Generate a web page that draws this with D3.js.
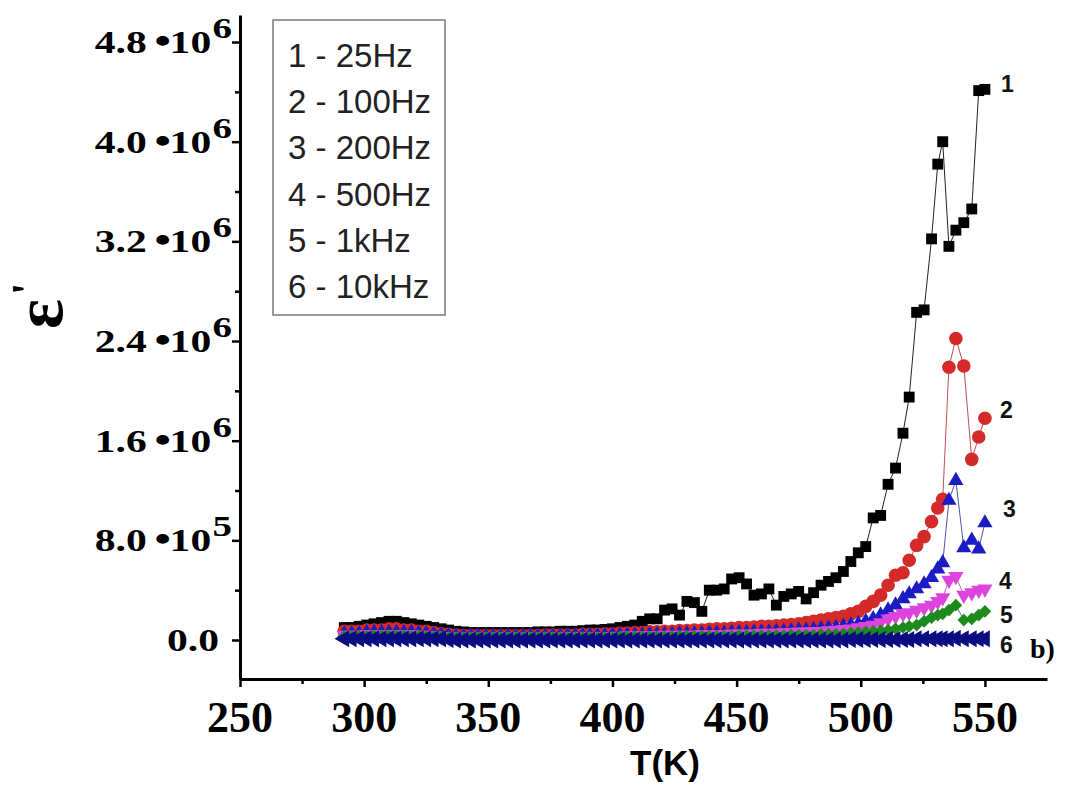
<!DOCTYPE html>
<html><head><meta charset="utf-8">
<script src="https://cdn.jsdelivr.net/npm/d3@7"></script>
<style>body{margin:0;background:#fff}</style>
</head><body>
<svg id="c" width="1075" height="789"></svg>
<script>
// Temperature (K)
const temps = [
292,295,298,301,304,307,310,313,316,319,
322,325,328,331,334,337,340,343,346,349,
352,355,358,361,364,367,370,373,376,379,
382,385,388,391,394,397,400,403,406,409,
412,415,418,421,424,427,430,433,436,439,
442,445,448,451,454,457,460,463,466,469,
472,475,478,481,484,487,490,493,496,499,
502,505,508,511,514,517,519.5,522.5,525.5,528.5,
531,533,535.5,538.3,541.5,544.7,547.5,550];

// epsilon' values in units of 10^6
const eps25 = [
0.10,0.10,0.11,0.12,0.13,0.14,0.15,0.15,0.14,0.13,
0.12,0.11,0.10,0.09,0.08,0.07,0.065,0.06,0.06,0.06,
0.06,0.06,0.06,0.06,0.06,0.06,0.065,0.065,0.065,0.07,
0.07,0.07,0.075,0.08,0.08,0.085,0.09,0.10,0.11,0.12,
0.15,0.17,0.17,0.24,0.25,0.20,0.31,0.30,0.23,0.40,
0.40,0.41,0.49,0.50,0.45,0.36,0.37,0.41,0.28,0.35,
0.37,0.39,0.33,0.38,0.44,0.47,0.50,0.55,0.63,0.70,
0.75,0.98,1.00,1.25,1.38,1.66,1.95,2.63,2.65,3.22,
3.82,4.00,3.16,3.29,3.35,3.46,4.41,4.42];

const eps100 = [
0.07,0.07,0.07,0.08,0.08,0.08,0.09,0.09,0.08,0.08,
0.07,0.07,0.06,0.05,0.045,0.04,0.035,0.035,0.035,0.035,
0.035,0.035,0.035,0.035,0.035,0.035,0.035,0.04,0.04,0.04,
0.04,0.04,0.045,0.045,0.045,0.05,0.05,0.055,0.055,0.06,
0.06,0.065,0.065,0.07,0.07,0.075,0.075,0.08,0.08,0.085,
0.09,0.09,0.095,0.10,0.10,0.105,0.11,0.11,0.115,0.12,
0.125,0.13,0.14,0.15,0.16,0.17,0.18,0.19,0.21,0.23,
0.27,0.31,0.36,0.44,0.52,0.54,0.64,0.76,0.83,0.95,
1.06,1.13,2.19,2.42,2.20,1.45,1.63,1.78];

const eps200 = [
0.05,0.05,0.05,0.06,0.06,0.06,0.06,0.06,0.06,0.06,
0.055,0.05,0.045,0.04,0.035,0.03,0.03,0.03,0.03,0.03,
0.03,0.03,0.03,0.03,0.03,0.03,0.03,0.03,0.03,0.03,
0.035,0.035,0.035,0.035,0.035,0.035,0.04,0.04,0.04,0.04,
0.04,0.045,0.045,0.045,0.045,0.05,0.05,0.05,0.05,0.055,
0.055,0.055,0.06,0.06,0.06,0.065,0.065,0.065,0.07,0.07,
0.075,0.08,0.08,0.085,0.09,0.095,0.10,0.11,0.12,0.13,
0.15,0.17,0.20,0.24,0.28,0.33,0.37,0.41,0.45,0.50,
0.57,0.62,1.12,1.28,0.74,0.80,0.73,0.94];

const eps500 = [
0.04,0.04,0.04,0.045,0.045,0.045,0.045,0.045,0.045,0.045,
0.04,0.04,0.035,0.03,0.03,0.025,0.025,0.025,0.025,0.025,
0.025,0.025,0.025,0.025,0.025,0.025,0.025,0.025,0.025,0.025,
0.03,0.03,0.03,0.03,0.03,0.03,0.03,0.03,0.035,0.035,
0.035,0.035,0.035,0.04,0.04,0.04,0.04,0.04,0.045,0.045,
0.045,0.045,0.05,0.05,0.05,0.05,0.055,0.055,0.055,0.06,
0.06,0.065,0.065,0.07,0.07,0.075,0.08,0.085,0.09,0.10,
0.11,0.12,0.14,0.17,0.19,0.21,0.22,0.24,0.26,0.28,
0.31,0.34,0.48,0.51,0.36,0.38,0.40,0.41];

const eps1k = [
0.03,0.03,0.03,0.03,0.035,0.035,0.035,0.035,0.035,0.03,
0.03,0.03,0.025,0.025,0.02,0.02,0.02,0.02,0.02,0.02,
0.02,0.02,0.02,0.02,0.02,0.02,0.02,0.02,0.02,0.02,
0.02,0.02,0.02,0.02,0.02,0.02,0.02,0.025,0.025,0.025,
0.025,0.025,0.025,0.025,0.025,0.03,0.03,0.03,0.03,0.03,
0.03,0.03,0.03,0.035,0.035,0.035,0.035,0.035,0.035,0.035,
0.04,0.04,0.04,0.04,0.045,0.045,0.045,0.05,0.055,0.06,
0.065,0.07,0.075,0.08,0.09,0.10,0.11,0.12,0.15,0.18,
0.20,0.21,0.24,0.28,0.16,0.17,0.20,0.23];

const eps10k = [
0.01,0.01,0.01,0.01,0.01,0.01,0.01,0.01,0.01,0.01,
0.01,0.01,0.01,0.01,0.005,0.0,0.0,0.0,0.0,0.0,
0.0,0.0,0.0,0.0,0.0,0.0,0.0,0.0,0.0,0.0,
0.0,0.0,0.0,0.0,0.0,0.0,0.0,0.0,0.0,0.0,
0.0,0.0,0.0,0.0,0.0,0.0,0.0,0.0,0.0,0.0,
0.0,0.0,0.0,0.0,0.0,0.0,0.0,0.0,0.0,0.0,
0.0,0.0,0.0,0.0,0.0,0.0,0.0,0.0,0.005,0.005,
0.005,0.005,0.005,0.005,0.005,0.005,0.005,0.01,0.01,0.01,
0.01,0.01,0.01,0.015,0.01,0.01,0.01,0.01];

const legendLabels = ["1 - 25Hz","2 - 100Hz","3 - 200Hz","4 - 500Hz","5 - 1kHz","6 - 10kHz"];
const curveNumbers = ["1","2","3","4","5","6"];
const xTicks = [250,300,350,400,450,500,550];
const xMinor = [275,325,375,425,475,525];
const yTicks = [0,0.8,1.6,2.4,3.2,4.0,4.8];
const yMinor = [0.4,1.2,2.0,2.8,3.6,4.4];
const yMantissa = ["0.0","8.0","1.6","2.4","3.2","4.0","4.8"];
const yExponent = ["","5","6","6","6","6","6"];

const svg = d3.select("#c");
svg.append("rect").attr("width",1075).attr("height",789).attr("fill","#fff");

const x = d3.scaleLinear().domain([250,575]).range([240,1047]);
const y = d3.scaleLinear().domain([-0.313,5.017]).range([679,15]);

const series = [
  {vals: eps25,  color:"#000000", line:"#222222", type:d3.symbolSquare,   size:118, rot:0},
  {vals: eps100, color:"#d42a2a", line:"#c05050", type:d3.symbolCircle,   size:145, rot:0},
  {vals: eps200, color:"#1c1cc4", line:"#5050b0", type:d3.symbolTriangle, size:100, rot:0},
  {vals: eps500, color:"#dd44dd", line:"#c060c0", type:d3.symbolTriangle, size:100, rot:180},
  {vals: eps1k,  color:"#1e8a1e", line:"#409040", type:d3.symbolSquare,   size:80,  rot:45},
  {vals: eps10k, color:"#0c0c82", line:"#20208a", type:d3.symbolTriangle, size:125, rot:-90}
];

const serif = "'Liberation Serif','Times New Roman',serif";
const sans = "'Liberation Sans',Arial,sans-serif";

const plot = svg.append("g");
series.forEach(s => {
  const pts = temps.map((t,i)=>[t, s.vals[i]]);
  plot.append("path").datum(pts)
    .attr("fill","none").attr("stroke",s.line).attr("stroke-width",1)
    .attr("d", d3.line().x(d=>x(d[0])).y(d=>y(d[1])));
  const sym = d3.symbol().type(s.type).size(s.size);
  plot.append("g").selectAll("path").data(pts).join("path")
    .attr("d", sym)
    .attr("fill", s.color)
    .attr("transform", d=>`translate(${x(d[0])},${y(d[1])}) rotate(${s.rot})`);
});

// Axes
const gx = svg.append("g").attr("transform",`translate(0,${y.range()[0]})`)
  .call(d3.axisBottom(x).tickValues(xTicks).tickSize(8).tickSizeOuter(0).tickFormat(""));
const gxm = svg.append("g").attr("transform",`translate(0,${y.range()[0]})`)
  .call(d3.axisBottom(x).tickValues(xMinor).tickSize(5).tickSizeOuter(0).tickFormat(""));
gxm.select(".domain").remove();
const gy = svg.append("g").attr("transform",`translate(${x.range()[0]},0)`)
  .call(d3.axisLeft(y).tickValues(yTicks).tickSize(8).tickSizeOuter(0).tickFormat(""));
const gym = svg.append("g").attr("transform",`translate(${x.range()[0]},0)`)
  .call(d3.axisLeft(y).tickValues(yMinor).tickSize(5).tickSizeOuter(0).tickFormat(""));
gym.select(".domain").remove();
svg.selectAll(".domain").attr("stroke","#000").attr("stroke-width",3);
svg.selectAll(".tick line").attr("stroke","#000").attr("stroke-width",2.5);

// X tick labels
svg.append("g").selectAll("text").data(xTicks).join("text")
  .attr("x", d=>x(d)).attr("y", 732)
  .attr("text-anchor","middle")
  .attr("font-family", serif).attr("font-weight","bold").attr("font-size",44)
  .text(d=>d);

// Y tick labels
yTicks.forEach((v,i)=>{
  const hasExp = yExponent[i] !== "";
  const g = svg.append("g")
    .attr("transform",`translate(${hasExp?232:219},${y(v)+11}) scale(1.3,1)`);
  const t = g.append("text").attr("text-anchor","end")
    .attr("font-family", serif).attr("font-weight","bold").attr("font-size",32);
  t.append("tspan").text(yMantissa[i]);
  if (hasExp) {
    t.append("tspan").attr("dx",6).attr("font-size",36).text("\u2022");
    t.append("tspan").attr("dx",-1).text("10");
    t.append("tspan").attr("dx",1).attr("dy",-15).attr("font-size",30).text(yExponent[i]);
  }
});

// Axis titles
svg.append("text").attr("x",665).attr("y",775).attr("text-anchor","middle")
  .attr("font-family", sans).attr("font-weight","bold").attr("font-size",35)
  .text("T(K)");
const yt = svg.append("text").attr("transform","translate(62,329) rotate(-90)")
  .attr("font-family", serif).attr("font-weight","bold").attr("font-size",70);
yt.append("tspan").text("\u03b5");
yt.append("tspan").attr("dx",4).attr("dy",-20).attr("font-size",44).text("'");

// Legend box
svg.append("rect").attr("x",273).attr("y",20).attr("width",172).attr("height",295)
  .attr("fill","#fff").attr("stroke","#7a7a7a").attr("stroke-width",1.5);
svg.append("g").selectAll("text").data(legendLabels).join("text")
  .attr("x",288).attr("y",(d,i)=>67+46.2*i)
  .attr("font-family", sans).attr("font-size",33).attr("fill","#222")
  .text(d=>d);

// Curve numbers near the last point of each series
const numDy = [3,0,-6,0,12,14];
const numDx = [16,15,18,14,15,15];
series.forEach((s,i)=>{
  const n = temps.length-1;
  svg.append("text").attr("x", x(temps[n])+numDx[i]).attr("y", y(s.vals[n])+numDy[i])
    .attr("font-family", sans).attr("font-weight","bold").attr("font-size",23)
    .attr("fill","#111").text(curveNumbers[i]);
});
svg.append("text").attr("x",1030).attr("y",658)
  .attr("font-family", serif).attr("font-weight","bold").attr("font-size",28)
  .text("b)");
</script>
</body></html>
